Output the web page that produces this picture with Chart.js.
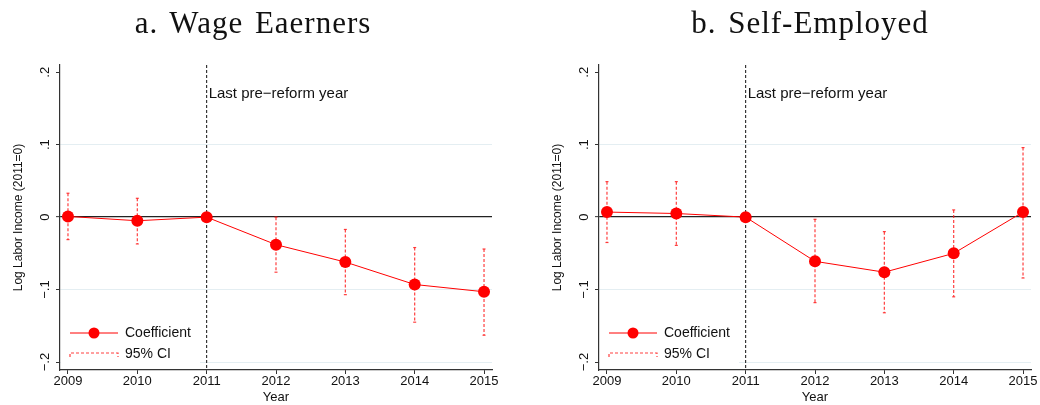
<!DOCTYPE html>
<html>
<head>
  <meta charset="UTF-8">
  <title>Log Labor Income around the reform</title>
  <script src="https://cdn.jsdelivr.net/npm/chart.js"></script>
  <style>
    body { margin: 0; background: #fff; }
    #wrap { position: relative; width: 1040px; height: 405px; }
    .ttl { position: absolute; top: 7px; font-family: "Liberation Serif", serif; font-size: 31px; line-height: 31px;
           letter-spacing: 1px; word-spacing: 3px; color: #111; white-space: nowrap; transform: translateX(-50%); z-index: 2; }
    .box { position: absolute; top: 0; width: 500px; height: 405px; }
  </style>
</head>
<body>
<div id="wrap">
  <div class="box" style="left:0"><canvas id="wageChart"></canvas></div>
  <div class="box" style="left:539px"><canvas id="selfChart"></canvas></div>
  <div class="ttl" style="left:253px">a. Wage Eaerners</div>
  <div class="ttl" style="left:810px">b. Self-Employed</div>
</div>
<script>
  // years and y tick labels
  const years = [2009, 2010, 2011, 2012, 2013, 2014, 2015];
  const yTickValues = [-0.2, -0.1, 0, 0.1, 0.2];
  const yTickLabels = ['\u2212.2', '\u2212.1', '0', '.1', '.2'];

  // a. Wage earners
  const wageCoef = [0.001, -0.005, 0, -0.038, -0.062, -0.093, -0.103];
  const wageHi   = [0.033, 0.026, null, 0.000, -0.017, -0.042, -0.044];
  const wageLo   = [-0.031, -0.037, null, -0.076, -0.107, -0.145, -0.163];

  // b. Self-employed
  const selfCoef = [0.007, 0.005, 0, -0.061, -0.076, -0.050, 0.007];
  const selfHi   = [0.049, 0.049, null, -0.003, -0.020, 0.010, 0.096];
  const selfLo   = [-0.035, -0.039, null, -0.118, -0.132, -0.110, -0.084];

  const RED = '#ff0000';
  const CI_RED = 'rgba(255,30,30,0.85)';
  const SANS = '"Liberation Sans", Arial, sans-serif';

  // vertical dashed line at 2011 with its label
  const refLinePlugin = {
    id: 'refLine',
    beforeDatasetsDraw(chart) {
      const { ctx, chartArea, scales } = chart;
      const x = scales.x.getPixelForValue(2011);
      ctx.save();
      ctx.strokeStyle = '#111';
      ctx.lineWidth = 1;
      ctx.setLineDash([3, 2]);
      ctx.beginPath();
      ctx.moveTo(x, chartArea.top);
      ctx.lineTo(x, chartArea.bottom);
      ctx.stroke();
      ctx.setLineDash([]);
      ctx.fillStyle = '#111';
      ctx.font = '15px ' + SANS;
      ctx.textBaseline = 'middle';
      ctx.fillText('Last pre\u2212reform year', x + 2, scales.y.getPixelForValue(0.17));
      ctx.restore();
    }
  };

  // legend box in the lower left corner
  const boxLegendPlugin = {
    id: 'boxLegend',
    afterDatasetsDraw(chart) {
      const { ctx, chartArea } = chart;
      const l = chartArea.left;
      ctx.save();
      ctx.fillStyle = '#fff';
      ctx.fillRect(l + 1, chartArea.bottom - 52, 139, 50);
      const y1 = chartArea.bottom - 37, y2 = chartArea.bottom - 16;
      // coefficient
      ctx.strokeStyle = RED;
      ctx.lineWidth = 1;
      ctx.beginPath();
      ctx.moveTo(l + 10, y1); ctx.lineTo(l + 58, y1);
      ctx.stroke();
      ctx.fillStyle = RED;
      ctx.beginPath();
      ctx.arc(l + 34, y1, 5.5, 0, Math.PI * 2);
      ctx.fill();
      // CI
      ctx.strokeStyle = CI_RED;
      ctx.lineWidth = 1.2;
      ctx.setLineDash([3, 2]);
      ctx.beginPath();
      ctx.moveTo(l + 10, y2 + 3); ctx.lineTo(l + 10, y2 - 1);
      ctx.lineTo(l + 58, y2 - 1); ctx.lineTo(l + 58, y2 + 3);
      ctx.stroke();
      ctx.setLineDash([]);
      ctx.fillStyle = '#111';
      ctx.font = '14px ' + SANS;
      ctx.textBaseline = 'middle';
      ctx.fillText('Coefficient', l + 65, y1);
      ctx.fillText('95% CI', l + 65, y2);
      ctx.restore();
    }
  };

  function ciPoints(hi, lo) {
    const pts = [];
    years.forEach((yr, i) => {
      if (hi[i] === null) return;
      pts.push({ x: yr, y: hi[i] }, { x: yr, y: lo[i] }, { x: yr, y: null });
    });
    return pts;
  }

  function makeChart(id, coef, hi, lo) {
    return new Chart(document.getElementById(id), {
      type: 'line',
      data: {
        datasets: [
          {
            label: 'Coefficient',
            data: years.map((yr, i) => ({ x: yr, y: coef[i] })),
            borderColor: RED,
            backgroundColor: RED,
            borderWidth: 1,
            pointRadius: 6,
            pointBorderWidth: 0,
            pointBackgroundColor: RED
          },
          {
            label: '95% CI',
            data: ciPoints(hi, lo),
            borderColor: CI_RED,
            borderWidth: 1.2,
            borderDash: [3, 2],
            spanGaps: false,
            pointStyle: 'line',
            pointRadius: 1.5,
            pointBorderColor: CI_RED,
            pointBorderWidth: 1.2
          }
        ]
      },
      options: {
        responsive: true,
        maintainAspectRatio: false,
        animation: false,
        layout: { padding: { top: 65, right: 8, left: 0, bottom: 0 } },
        plugins: { legend: { display: false }, tooltip: { enabled: false }, title: { display: false } },
        scales: {
          x: {
            type: 'linear',
            min: 2008.885,
            max: 2015.115,
            afterBuildTicks: s => { s.ticks = years.map(v => ({ value: v })); },
            afterFit: s => { s.height = 35; },
            ticks: { callback: v => String(v), color: '#111', font: { size: 13, family: SANS }, padding: 0, maxRotation: 0 },
            grid: { drawOnChartArea: false, tickLength: 4, tickColor: '#333', tickWidth: 1 },
            border: { color: '#333', width: 1.2 },
            title: { display: true, text: 'Year', color: '#111', font: { size: 13, family: SANS }, padding: { top: 1, bottom: 0 } }
          },
          y: {
            min: -0.211,
            max: 0.21,
            afterBuildTicks: s => { s.ticks = yTickValues.map(v => ({ value: v })); },
            afterFit: s => { s.width = 60; },
            ticks: {
              callback: v => yTickLabels[yTickValues.findIndex(t => Math.abs(t - v) < 1e-9)],
              minRotation: 90, maxRotation: 90, crossAlign: 'center', padding: 1,
              color: '#111', font: { size: 13, family: SANS }
            },
            grid: {
              color: c => {
                const v = c.tick ? c.tick.value : null;
                if (v === 0) return '#222';
                if (v === 0.2) return 'rgba(0,0,0,0)';
                return '#e4eef2';
              },
              lineWidth: c => (c.tick && c.tick.value === 0 ? 1.3 : 1),
              tickLength: 4, tickColor: '#333', tickWidth: 1
            },
            border: { color: '#333', width: 1.2 },
            title: { display: true, text: 'Log Labor Income (2011=0)', color: '#111', font: { size: 12, family: SANS }, padding: { top: 11, bottom: 0 } }
          }
        }
      },
      plugins: [refLinePlugin, boxLegendPlugin]
    });
  }

  makeChart('wageChart', wageCoef, wageHi, wageLo);
  makeChart('selfChart', selfCoef, selfHi, selfLo);
</script>
</body>
</html>
